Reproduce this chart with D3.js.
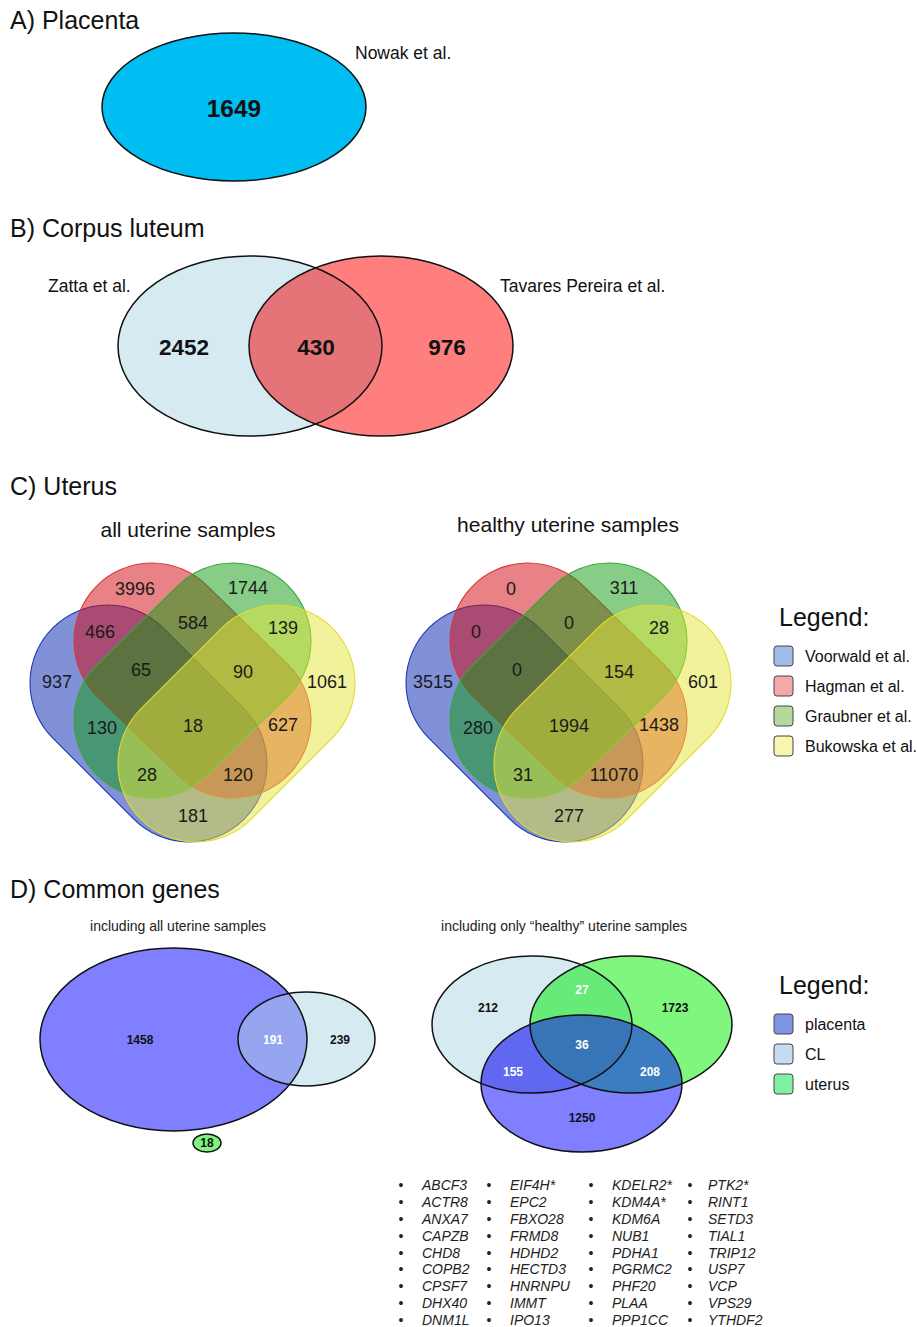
<!DOCTYPE html>
<html>
<head>
<meta charset="utf-8">
<script src="https://cdn.jsdelivr.net/npm/d3@7"></script>
<style>
  body { margin: 0; background: #fff; }
  svg { display: block; font-family: "Liberation Sans", Arial, sans-serif; }
</style>
</head>
<body>
<div id="chart"></div>
<script>
// A) placenta
const placentaSets = ["Nowak et al."];
const placentaCounts = [1649];

// B) corpus luteum
const clSets = ["Zatta et al.", "Tavares Pereira et al."];
const clRegions = ["Z", "ZT", "T"];
const clCounts = [2452, 430, 976];

// C) uterus, V=Voorwald H=Hagman G=Graubner B=Bukowska
const uterusSets = ["Voorwald et al.", "Hagman et al.", "Graubner et al.", "Bukowska et al."];
const uterusRegions = ["V", "H", "G", "B", "VH", "HG", "GB", "VG", "VHG", "HGB", "VHGB", "HB", "VGB", "VHB", "VB"];
const uterusAll = [937, 3996, 1744, 1061, 466, 584, 139, 130, 65, 90, 18, 627, 28, 120, 181];
const uterusHealthy = [3515, 0, 311, 601, 0, 0, 28, 280, 0, 154, 1994, 1438, 31, 11070, 277];

// D) common genes, P=placenta C=CL U=uterus
const commonSets = ["placenta", "CL", "uterus"];
const commonAllRegions = ["P", "PC", "C", "U"];
const commonAll = [1458, 191, 239, 18];
const commonHealthyRegions = ["C", "CU", "U", "PC", "PCU", "PU", "P"];
const commonHealthy = [212, 27, 1723, 155, 36, 208, 1250];

const genes = [
  "ABCF3", "ACTR8", "ANXA7", "CAPZB", "CHD8", "COPB2", "CPSF7", "DHX40", "DNM1L",
  "EIF4H*", "EPC2", "FBXO28", "FRMD8", "HDHD2", "HECTD3", "HNRNPU", "IMMT", "IPO13",
  "KDELR2*", "KDM4A*", "KDM6A", "NUB1", "PDHA1", "PGRMC2", "PHF20", "PLAA", "PPP1CC",
  "PTK2*", "RINT1", "SETD3", "TIAL1", "TRIP12", "USP7", "VCP", "VPS29", "YTHDF2"
];

const width = 917, height = 1327;
const svg = d3.select('#chart').append('svg')
  .attr('width', width)
  .attr('height', height);
svg.append('rect').attr('width', width).attr('height', height).attr('fill', '#fff');
const defs = svg.append('defs');

const title = (txt, y) => svg.append('text')
  .attr('x', 10).attr('y', y)
  .style('font-size', '25px').attr('fill', '#111')
  .text(txt);

let clipId = 0;
const addClip = (shape) => {
  const id = 'clip' + (clipId++);
  const cp = defs.append('clipPath').attr('id', id);
  cp.append('ellipse')
    .attr('cx', shape.cx).attr('cy', shape.cy)
    .attr('rx', shape.rx).attr('ry', shape.ry);
  return `url(#${id})`;
};

// ellipse venn: fills for single sets, intersections drawn clipped
const ellipseVenn = (g, shapes, overlaps, labels, values, regions) => {
  g.selectAll('ellipse.set').data(shapes).enter().append('ellipse')
    .attr('class', 'set')
    .attr('cx', d => d.cx).attr('cy', d => d.cy)
    .attr('rx', d => d.rx).attr('ry', d => d.ry)
    .attr('fill', d => d.fill);
  overlaps.forEach(o => {
    let layer = g;
    o.sets.slice(0, -1).forEach(k => {
      layer = layer.append('g').attr('clip-path', addClip(shapes.find(s => s.key === k)));
    });
    const last = shapes.find(s => s.key === o.sets[o.sets.length - 1]);
    layer.append('ellipse')
      .attr('cx', last.cx).attr('cy', last.cy)
      .attr('rx', last.rx).attr('ry', last.ry)
      .attr('fill', o.fill);
  });
  g.selectAll('ellipse.outline').data(shapes).enter().append('ellipse')
    .attr('class', 'outline')
    .attr('cx', d => d.cx).attr('cy', d => d.cy)
    .attr('rx', d => d.rx).attr('ry', d => d.ry)
    .attr('fill', 'none').attr('stroke', '#111').attr('stroke-width', 1.5);
  g.selectAll('text.count').data(values).enter().append('text')
    .attr('class', 'count')
    .attr('x', (d, i) => labels[regions[i]].x)
    .attr('y', (d, i) => labels[regions[i]].y)
    .attr('text-anchor', 'middle')
    .attr('dominant-baseline', 'central')
    .style('font-weight', 'bold')
    .style('font-size', (d, i) => labels[regions[i]].size + 'px')
    .attr('fill', (d, i) => labels[regions[i]].color || '#111')
    .text(d => d);
};

// ---------- A) Placenta ----------
title('A) Placenta', 29);
const gA = svg.append('g');
ellipseVenn(gA,
  [{key: 'N', cx: 234, cy: 107, rx: 132, ry: 74, fill: '#00BEF2'}],
  [],
  {N: {x: 234, y: 108, size: 24.5}},
  placentaCounts, ['N']);
gA.append('text').attr('x', 355).attr('y', 59).style('font-size', '17.5px').attr('fill', '#111').text(placentaSets[0]);

// ---------- B) Corpus luteum ----------
title('B) Corpus luteum', 237);
const gB = svg.append('g');
ellipseVenn(gB,
  [{key: 'Z', cx: 250, cy: 346, rx: 132, ry: 90, fill: '#D6EAF2'},
   {key: 'T', cx: 381, cy: 346, rx: 132, ry: 90, fill: '#FF7F7F'}],
  [{sets: ['Z', 'T'], fill: '#E57377'}],
  {Z: {x: 184, y: 347, size: 22.5}, ZT: {x: 316, y: 347, size: 22.5}, T: {x: 447, y: 347, size: 22.5}},
  clCounts, clRegions);
gB.append('text').attr('x', 48).attr('y', 292).style('font-size', '17.5px').attr('fill', '#111').text(clSets[0]);
gB.append('text').attr('x', 500).attr('y', 292).style('font-size', '17.5px').attr('fill', '#111').text(clSets[1]);

// ---------- C) Uterus ----------
title('C) Uterus', 495);

const stadiums = [
  {key: 'V', p1: [-84.5, -17], p2: [-3.5, 64], fill: 'rgb(1,35,175)', stroke: '#2436b0'},
  {key: 'H', p1: [-40.5, -59], p2: [40.5, 20], fill: 'rgb(210,5,15)', stroke: '#d83a3a'},
  {key: 'G', p1: [40.5, -59], p2: [-40.5, 20], fill: 'rgb(15,155,15)', stroke: '#36a836'},
  {key: 'B', p1: [84.5, -17], p2: [3.5, 64], fill: 'rgb(229,229,60)', stroke: '#e2dc2c'}
];
const stadR = 78;
const quadLabels = {
  V: [-135.5, -18], H: [-57.5, -111], G: [55.5, -112], B: [134.5, -18],
  VH: [-92.5, -68], HG: [0.5, -77], GB: [90.5, -72], VG: [-90.5, 28],
  VHG: [-51.5, -30], HGB: [50.5, -28], VHGB: [0.5, 26], HB: [90.5, 25],
  VGB: [-45.5, 75], VHB: [45.5, 75], VB: [0.5, 116]
};

const stadiumPath = (d) => {
  const L = Math.hypot(d.p2[0] - d.p1[0], d.p2[1] - d.p1[1]);
  const r = stadR;
  return `M0,${-r}L${L},${-r}A${r},${r} 0 0 1 ${L},${r}L0,${r}A${r},${r} 0 0 1 0,${-r}Z`;
};
const stadiumTransform = (d) => {
  const ang = Math.atan2(d.p2[1] - d.p1[1], d.p2[0] - d.p1[0]) * 180 / Math.PI;
  return `translate(${d.p1[0]},${d.p1[1]})rotate(${ang})`;
};

const quadVenn = (ox, oy, values, caption, capX, capY) => {
  const g = svg.append('g').attr('transform', `translate(${ox},${oy})`);
  g.selectAll('path.set').data(stadiums).enter().append('path')
    .attr('class', 'set')
    .attr('d', stadiumPath)
    .attr('transform', stadiumTransform)
    .attr('fill', d => d.fill)
    .attr('fill-opacity', 0.5)
    .attr('stroke', d => d.stroke)
    .attr('stroke-width', 1.1);
  g.selectAll('text.count').data(values).enter().append('text')
    .attr('class', 'count')
    .attr('x', (d, i) => quadLabels[uterusRegions[i]][0])
    .attr('y', (d, i) => quadLabels[uterusRegions[i]][1])
    .attr('text-anchor', 'middle')
    .attr('dominant-baseline', 'central')
    .style('font-size', '18px')
    .attr('fill', '#1a1a1a')
    .text(d => d);
  svg.append('text').attr('x', capX).attr('y', capY)
    .attr('text-anchor', 'middle')
    .style('font-size', '21px').attr('fill', '#111')
    .text(caption);
};
quadVenn(192.5, 700, uterusAll, 'all uterine samples', 188, 537);
quadVenn(568.5, 700, uterusHealthy, 'healthy uterine samples', 568, 532);

// legend C
const legendC = svg.append('g').attr('transform', 'translate(774,0)');
legendC.append('text').attr('x', 5).attr('y', 626).style('font-size', '25px').attr('fill', '#111').text('Legend:');
const legendCFill = ['#A2BCE8', '#F5A8A8', '#B5D89F', '#F9F4AE'];
const legendCy = d3.scaleLinear().domain([0, 3]).range([656, 746]);
legendC.selectAll('rect').data(uterusSets).enter().append('rect')
  .attr('x', 0).attr('y', (d, i) => legendCy(i) - 10)
  .attr('width', 19).attr('height', 20).attr('rx', 3)
  .attr('fill', (d, i) => legendCFill[i])
  .attr('stroke', '#444').attr('stroke-width', 1);
legendC.selectAll('text.item').data(uterusSets).enter().append('text')
  .attr('class', 'item')
  .attr('x', 31).attr('y', (d, i) => legendCy(i))
  .attr('dominant-baseline', 'central')
  .style('font-size', '16px').attr('fill', '#111')
  .text(d => d);

// ---------- D) Common genes ----------
title('D) Common genes', 898);
svg.append('text').attr('x', 178).attr('y', 931).attr('text-anchor', 'middle')
  .style('font-size', '14px').attr('fill', '#222').text('including all uterine samples');
svg.append('text').attr('x', 564).attr('y', 931).attr('text-anchor', 'middle')
  .style('font-size', '14px').attr('fill', '#222').text('including only \u201chealthy\u201d uterine samples');

const gD1 = svg.append('g');
ellipseVenn(gD1,
  [{key: 'P', cx: 173.5, cy: 1039.5, rx: 133.5, ry: 91.5, fill: '#7F7FFF'},
   {key: 'C', cx: 306.5, cy: 1039, rx: 68.5, ry: 47, fill: '#D6EAF2'},
   {key: 'U', cx: 207, cy: 1143, rx: 14, ry: 9, fill: '#7FF27F'}],
  [{sets: ['P', 'C'], fill: '#95A5F0'}],
  {P: {x: 140, y: 1040, size: 12}, PC: {x: 273, y: 1040, size: 12, color: '#fff'},
   C: {x: 340, y: 1040, size: 12}, U: {x: 207, y: 1143, size: 12}},
  commonAll, commonAllRegions);

const gD2 = svg.append('g');
ellipseVenn(gD2,
  [{key: 'C', cx: 532, cy: 1024.5, rx: 100, ry: 68.5, fill: '#D6EAF2'},
   {key: 'U', cx: 631, cy: 1024.5, rx: 101, ry: 68.5, fill: '#7FF77F'},
   {key: 'P', cx: 581.5, cy: 1083.5, rx: 100.5, ry: 68.5, fill: '#7F7FFF'}],
  [{sets: ['C', 'U'], fill: '#66EA78'},
   {sets: ['C', 'P'], fill: '#6068F2'},
   {sets: ['U', 'P'], fill: '#3C7DC2'},
   {sets: ['C', 'U', 'P'], fill: '#3775B6'}],
  {C: {x: 488, y: 1008, size: 12}, CU: {x: 582, y: 990, size: 12, color: '#fff'},
   U: {x: 675, y: 1008, size: 12}, PC: {x: 513, y: 1072, size: 12, color: '#fff'},
   PCU: {x: 582, y: 1045, size: 12, color: '#fff'}, PU: {x: 650, y: 1072, size: 12, color: '#fff'},
   P: {x: 582, y: 1118, size: 12}},
  commonHealthy, commonHealthyRegions);

// legend D
const legendD = svg.append('g').attr('transform', 'translate(774,0)');
legendD.append('text').attr('x', 5).attr('y', 994).style('font-size', '25px').attr('fill', '#111').text('Legend:');
const legendDFill = ['#7F95E2', '#C6DCF0', '#82F0A2'];
const legendDy = d3.scaleLinear().domain([0, 2]).range([1024, 1084]);
legendD.selectAll('rect').data(commonSets).enter().append('rect')
  .attr('x', 0).attr('y', (d, i) => legendDy(i) - 10)
  .attr('width', 19).attr('height', 20).attr('rx', 3)
  .attr('fill', (d, i) => legendDFill[i])
  .attr('stroke', '#444').attr('stroke-width', 1);
legendD.selectAll('text.item').data(commonSets).enter().append('text')
  .attr('class', 'item')
  .attr('x', 31).attr('y', (d, i) => legendDy(i))
  .attr('dominant-baseline', 'central')
  .style('font-size', '16px').attr('fill', '#111')
  .text(d => d);

// gene list, 4 columns of 9
const perCol = 9;
const bulletX = [401, 489, 591, 690];
const nameX = [422, 510, 612, 708];
const rowY = d3.scaleLinear().domain([0, perCol - 1]).range([1185, 1320]);
const geneG = svg.append('g').style('font-size', '14px');
geneG.selectAll('text.bullet').data(genes).enter().append('text')
  .attr('class', 'bullet')
  .attr('x', (d, i) => bulletX[Math.floor(i / perCol)])
  .attr('y', (d, i) => rowY(i % perCol))
  .attr('dominant-baseline', 'central')
  .attr('text-anchor', 'middle')
  .attr('fill', '#222')
  .text('\u2022');
geneG.selectAll('text.gene').data(genes).enter().append('text')
  .attr('class', 'gene')
  .attr('x', (d, i) => nameX[Math.floor(i / perCol)])
  .attr('y', (d, i) => rowY(i % perCol))
  .attr('dominant-baseline', 'central')
  .style('font-style', 'italic')
  .attr('fill', '#222')
  .text(d => d);
</script>
</body>
</html>
